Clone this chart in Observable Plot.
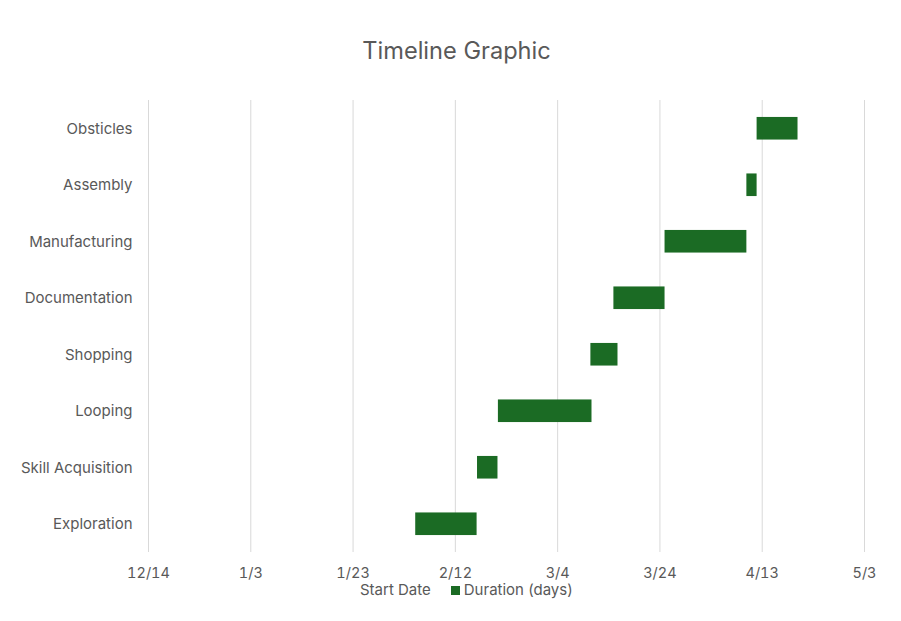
<!DOCTYPE html>
<html>
<head>
<meta charset="utf-8">
<script src="https://cdn.jsdelivr.net/npm/d3@7"></script>
<script src="https://cdn.jsdelivr.net/npm/@observablehq/plot@0.6"></script>
<style>
  html, body { margin: 0; padding: 0; background: #fff; }
  #wrap { position: relative; width: 901px; height: 621px; font-family: Inter, "Open Sans", sans-serif; color: #595959; }
  #title { position: absolute; left: 0; width: 913px; top: 35px; text-align: center; font-size: 23.6px; line-height: 32px; }
  #legend { position: absolute; top: 580px; left: 360px; font-size: 15px; line-height: 20px; white-space: nowrap; }
  #legend .sw { display: inline-block; width: 9px; height: 9px; background: #1b6b24; margin: 0 4px 0 20px; }
  #chart { position: absolute; left: 0; top: 0; }
</style>
</head>
<body>
<div id="wrap">
  <div id="chart"></div>
  <div id="title">Timeline Graphic</div>
  <div id="legend"><span>Start Date</span><span class="sw"></span><span>Duration (days)</span></div>
</div>
<script>
const tasks = ["Exploration", "Skill Acquisition", "Looping", "Shopping", "Documentation", "Manufacturing", "Assembly", "Obsticles"];
const startDates = ["2025-02-04T06:00", "2025-02-16T08:00", "2025-02-20T10:00", "2025-03-10T12:00", "2025-03-15T00:00", "2025-03-25T00:00", "2025-04-10T00:00", "2025-04-12T00:00"];
const durations = [12, 4, 18.3, 5.3, 10, 16, 2, 8];
const tickLabels = ["12/14", "1/3", "1/23", "2/12", "3/4", "3/24", "4/13", "5/3"];
const tickDates = ["2024-12-14", "2025-01-03", "2025-01-23", "2025-02-12", "2025-03-04", "2025-03-24", "2025-04-13", "2025-05-03"];

const parse = s => new Date(s + (s.length === 10 ? "T00:00:00Z" : ":00Z"));
const ticks = tickDates.map(parse);
const rows = tasks.map((t, i) => {
  const s = parse(startDates[i]);
  return { task: t, start: s, end: new Date(s.getTime() + durations[i] * 864e5) };
});
const fmt = (d) => tickLabels[ticks.findIndex(t => +t === +d)];

const chart = Plot.plot({
  width: 901,
  height: 621,
  marginTop: 100,
  marginBottom: 69,
  marginLeft: 148,
  marginRight: 37,
  style: { fontFamily: "Inter, 'Open Sans', sans-serif", fontSize: "14px", color: "#595959", background: "transparent" },
  x: { type: "utc", domain: [ticks[0], ticks[ticks.length - 1]], ticks: ticks, tickFormat: fmt, tickSize: 0, tickPadding: 15.5, label: null },
  y: { domain: tasks.slice().reverse(), paddingInner: 0.6, paddingOuter: 0.3, round: false, tickSize: 0, tickPadding: 16, label: null },
  marks: [
    Plot.gridX(ticks, { stroke: "#d9d9d9", strokeOpacity: 1, strokeWidth: 1 }),
    Plot.barX(rows, { y: "task", x1: "start", x2: "end", fill: "#1b6b24" }),
    Plot.axisX({ ticks: ticks, tickFormat: fmt, tickSize: 0, tickPadding: 15.5, label: null, fill: "#595959", fontSize: 14.5 }),
    Plot.axisY({ tickSize: 0, tickPadding: 16, label: null, fill: "#595959", fontSize: 15 })
  ]
});
document.getElementById("chart").appendChild(chart);
</script>
</body>
</html>
